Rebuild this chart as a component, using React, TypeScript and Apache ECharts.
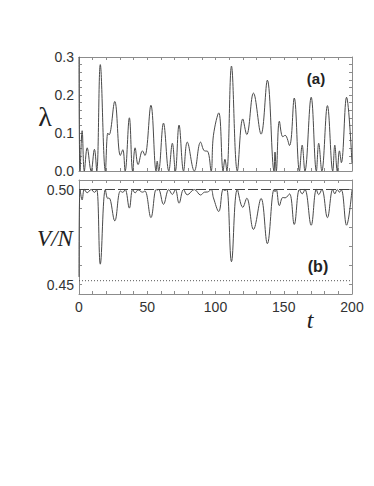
import React, { useEffect, useRef } from 'react';
import * as echarts from 'echarts';

// Panel (a): lambda(t) at peaks, troughs and zeros
const lambdaPoints: [number, number][] = [
  [0, 0.3], [0.8, 0.0], [2.3, 0.106], [3.9, 0.0], [6.0, 0.061], [8.9, 0.0],
  [11.3, 0.057], [13.0, 0.0], [15.6, 0.28], [19.3, 0.0], [21.1, 0.1], [22.0, 0.095],
  [26.2, 0.183], [30.3, 0.041], [32.1, 0.056], [33.8, 0.0], [36.9, 0.14], [39.3, 0.0],
  [41.1, 0.061], [43.3, 0.017], [46.5, 0.053], [48.3, 0.041], [52.7, 0.173], [56.5, 0.0],
  [57.3, 0.026], [58.3, 0.0], [61.9, 0.126], [65.8, 0.0], [68.4, 0.073], [70.6, 0.0],
  [73.3, 0.121], [76.6, 0.0], [79.3, 0.076], [84.5, 0.0], [89.1, 0.076], [91.9, 0.053],
  [94.2, 0.052], [96.8, 0.0], [98.5, 0.094], [102.4, 0.153], [105.6, 0.0], [106.9, 0.031],
  [108.3, 0.0], [111.7, 0.276], [116.0, 0.0], [120.0, 0.137], [122.9, 0.096], [127.8, 0.205],
  [133.4, 0.097], [138.0, 0.239], [142.9, 0.0], [143.6, 0.05], [144.5, 0.0], [146.8, 0.131],
  [149.3, 0.09], [151.0, 0.094], [154.2, 0.067], [157.7, 0.192], [161.5, 0.0], [163.5, 0.068],
  [165.5, 0.0], [170.1, 0.194], [173.9, 0.0], [175.6, 0.073], [177.9, 0.0], [182.0, 0.172],
  [185.9, 0.0], [187.4, 0.068], [189.2, 0.0], [190.8, 0.053], [192.2, 0.022], [196.0, 0.194],
  [200, 0.021],
];

// Panel (b): V/N(t)
const vnPoints: [number, number][] = [
  [0, 0.454], [0.8, 0.5], [2.3, 0.4945], [3.9, 0.5], [6.0, 0.4983], [8.9, 0.5],
  [11.3, 0.4985], [13.0, 0.5], [15.6, 0.4607], [19.3, 0.5], [21.1, 0.4952], [22.0, 0.4956],
  [26.2, 0.4835], [30.3, 0.4992], [32.1, 0.4985], [33.8, 0.5], [36.9, 0.4902], [39.3, 0.5],
  [41.1, 0.4982], [43.3, 0.4998], [46.5, 0.4986], [48.3, 0.4992], [52.7, 0.4852], [56.5, 0.5],
  [57.3, 0.4997], [58.3, 0.5], [61.9, 0.4922], [65.8, 0.5], [68.4, 0.4974], [70.6, 0.5],
  [73.3, 0.4928], [76.6, 0.5], [79.3, 0.4972], [84.5, 0.5], [89.1, 0.4971], [91.9, 0.4986],
  [94.2, 0.4987], [96.8, 0.5], [98.5, 0.4956], [102.4, 0.4884], [105.6, 0.5], [106.9, 0.4995],
  [108.3, 0.5], [111.7, 0.462], [116.0, 0.5], [120.0, 0.4906], [122.9, 0.4954], [127.8, 0.479],
  [133.4, 0.4953], [138.0, 0.4715], [142.9, 0.5], [143.6, 0.4988], [144.5, 0.5], [146.8, 0.4915],
  [149.3, 0.4958], [151.0, 0.4956], [154.2, 0.4977], [157.7, 0.4816], [161.5, 0.5], [163.5, 0.4977],
  [165.5, 0.5], [170.1, 0.4812], [173.9, 0.5], [175.6, 0.4973], [177.9, 0.5], [182.0, 0.4852],
  [185.9, 0.5], [187.4, 0.4977], [189.2, 0.5], [190.8, 0.4986], [192.2, 0.4998], [196.0, 0.4812],
  [200, 0.4998],
];

const vnUpperLevel: [number, number][] = [[0, 0.5], [200, 0.5]];
const vnLowerLevel: [number, number][] = [[0, 0.452], [200, 0.452]];

const panelLabels = ['(a)', '(b)'];

export default function App() {
  const ref = useRef<HTMLDivElement>(null);
  useEffect(() => {
    const chart = echarts.init(ref.current!, null, { renderer: 'svg' });
    const frame = '#8c8c8c';
    const sans = '"Liberation Sans", Arial, sans-serif';
    const serif = '"Liberation Serif", "Times New Roman", serif';
    const lbl = { color: '#333', fontFamily: sans, fontSize: 14 };
    const line = { show: true, onZero: false, lineStyle: { color: frame, width: 1 } };
    const tick = { show: true, inside: true, length: 3, lineStyle: { color: frame, width: 1 } };

    const xAxis = (gridIndex: number, position: string, showLabel: boolean) => ({
      type: 'value', gridIndex, position, min: 0, max: 200, interval: 10,
      axisLine: line, axisTick: tick, splitLine: { show: false },
      axisLabel: showLabel
        ? { ...lbl, margin: 6, formatter: (v: number) => (Math.round(v) % 50 === 0 ? String(Math.round(v)) : '') }
        : { show: false },
    });
    const yA = (position: string, showLabel: boolean) => ({
      type: 'value', gridIndex: 0, position, min: 0, max: 0.3, interval: 0.02,
      axisLine: line, axisTick: tick, splitLine: { show: false },
      axisLabel: showLabel
        ? { ...lbl, margin: 5, formatter: (v: number) => (Math.abs(v * 10 - Math.round(v * 10)) < 1e-6 ? v.toFixed(1) : '') }
        : { show: false },
    });
    const yB = (position: string, showLabel: boolean) => ({
      type: 'value', gridIndex: 1, position, min: 0.445, max: 0.505, splitNumber: 6,
      axisLine: line, axisTick: tick, splitLine: { show: false },
      axisLabel: showLabel
        ? {
            ...lbl, margin: 5,
            formatter: (v: number) => (Math.abs(v - 0.45) < 1e-6 ? '0.45' : Math.abs(v - 0.5) < 1e-6 ? '0.50' : ''),
          }
        : { show: false },
    });

    chart.setOption({
      animation: false,
      grid: [
        { left: 79, top: 57, width: 273, height: 114 },
        { left: 79, top: 180, width: 273, height: 114 },
      ],
      xAxis: [xAxis(0, 'bottom', false), xAxis(0, 'top', false), xAxis(1, 'bottom', true), xAxis(1, 'top', false)],
      yAxis: [yA('left', true), yA('right', false), yB('left', true), yB('right', false)],
      series: [
        {
          type: 'line', xAxisIndex: 0, yAxisIndex: 0, data: lambdaPoints, smooth: 0.4,
          showSymbol: false, lineStyle: { color: '#4a4a4a', width: 1 },
        },
        {
          type: 'line', xAxisIndex: 2, yAxisIndex: 2, data: vnUpperLevel, showSymbol: false,
          lineStyle: { color: '#444', width: 1, type: [10, 3] },
        },
        {
          type: 'line', xAxisIndex: 2, yAxisIndex: 2, data: vnLowerLevel, showSymbol: false,
          lineStyle: { color: '#555', width: 1, type: [1, 2] },
        },
        {
          type: 'line', xAxisIndex: 2, yAxisIndex: 2, data: vnPoints, smooth: 0.4,
          showSymbol: false, lineStyle: { color: '#4a4a4a', width: 1 },
        },
      ],
      graphic: [
        { type: 'text', x: 45, y: 116, style: { text: 'λ', font: `28px ${serif}`, fill: '#222', align: 'center', verticalAlign: 'middle' } },
        { type: 'text', x: 55, y: 238, style: { text: 'V/N', font: `italic 23px ${serif}`, fill: '#222', align: 'center', verticalAlign: 'middle' } },
        { type: 'text', x: 310, y: 320, style: { text: 't', font: `italic 24px ${serif}`, fill: '#222', align: 'center', verticalAlign: 'middle' } },
        { type: 'text', x: 316, y: 78, style: { text: panelLabels[0], font: `bold 15px ${sans}`, fill: '#222', align: 'center', verticalAlign: 'middle' } },
        { type: 'text', x: 318, y: 266, style: { text: panelLabels[1], font: `bold 16px ${sans}`, fill: '#222', align: 'center', verticalAlign: 'middle' } },
      ],
    });
    return () => chart.dispose();
  }, []);
  return <div ref={ref} style={{ position: 'absolute', left: 0, top: 0, width: 374, height: 486 }} />;
}
